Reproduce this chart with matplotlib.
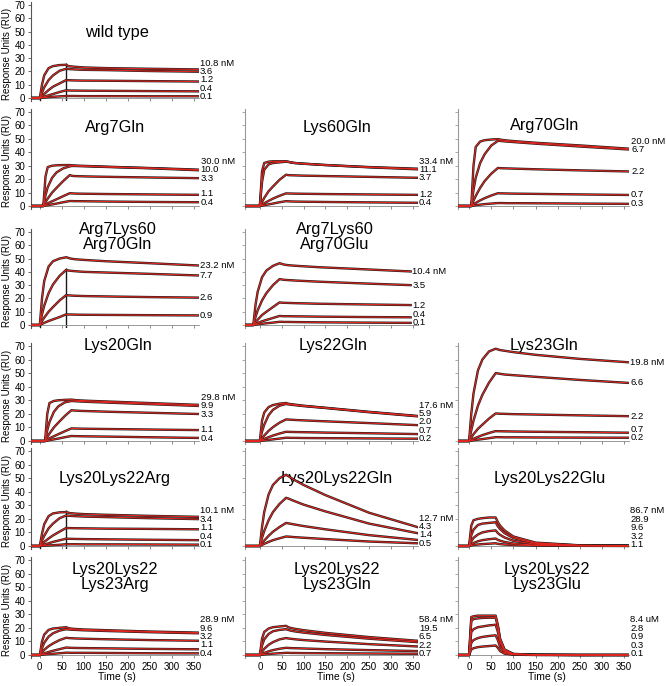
"""SPR sensorgrams for wild type and mutants, 6 x 3 panel grid -> out.png"""

import matplotlib

matplotlib.use("Agg")
import matplotlib.pyplot as plt

# sampling times (s)
T = [-40, 0, 5, 10, 20, 30, 45, 60, 65, 70, 80, 100, 150, 250, 360]

# ---- values (RU), one list per concentration ----
WT_LABELS = ["10.8 nM", "3.6", "1.2", "0.4", "0.1"]
WT_CURVES = [
    [0, 0, 10, 17, 22.5, 24, 24.8, 25, 24, 23.8, 23.5, 23, 22.5, 22, 21.5],
    [0, 0, 4, 8, 13.5, 17, 20.5, 22, 21.8, 21.7, 21.5, 21.2, 21, 20.3, 19.8],
    [0, 0, 1.5, 3, 6, 8.5, 11, 13.5, 13.4, 13.3, 13.2, 13.1, 13, 12.7, 12.4],
    [0, 0, 0.5, 1, 2, 3, 4.5, 5.8, 5.7, 5.6, 5.6, 5.5, 5.4, 5.2, 5],
    [0, 0, 0.2, 0.3, 0.6, 0.9, 1.2, 1.5, 1.5, 1.5, 1.5, 1.4, 1.4, 1.3, 1.3],
]

R7Q_LABELS = ["30.0 nM", "10.0", "3.3", "1.1", "0.4"]
R7Q_CURVES = [
    [0, 0, 22, 29, 30, 30.3, 30.5, 30.5, 30.3, 30.2, 30, 29.8, 29.2, 28.2, 27],
    [0, 0, 8, 14, 21, 25, 28, 29.5, 29.8, 29.8, 29.7, 29.5, 29, 28, 26.5],
    [0, 0, 3, 5.5, 10, 13.5, 18.5, 23, 22.5, 22.3, 22.2, 22, 21.7, 21.2, 20.7],
    [0, 0, 1, 2, 3.5, 5, 7.3, 9.5, 9.4, 9.3, 9.2, 9.1, 8.9, 8.6, 8.3],
    [0, 0, 0.3, 0.6, 1.2, 1.8, 2.8, 3.7, 3.7, 3.6, 3.6, 3.5, 3.3, 3, 2.8],
]

K60Q_LABELS = ["33.4 nM", "11.1", "3.7", "1.2", "0.4"]
K60Q_CURVES = [
    [0, 0, 26, 32, 33, 33.3, 33.3, 33.3, 33, 32.5, 32, 31.5, 30.5, 29, 27.8],
    [0, 0, 18, 27, 31, 32, 32.5, 33, 32.8, 32.5, 32, 31.5, 30.5, 28.8, 27.3],
    [0, 0, 3, 6, 11, 14.5, 19.5, 23.3, 23, 22.9, 22.8, 22.6, 22.3, 21.7, 21],
    [0, 0, 1, 2, 3.8, 5.5, 7.6, 9.4, 9.3, 9.3, 9.2, 9.1, 8.9, 8.6, 8.3],
    [0, 0, 0.3, 0.6, 1.2, 1.8, 2.8, 3.6, 3.5, 3.4, 3.3, 3.2, 3, 2.7, 2.4],
]

R70Q_LABELS = ["20.0 nM", "6.7", "2.2", "0.7", "0.3"]
R70Q_CURVES = [
    [0, 0, 30, 44, 48, 49, 49.5, 49.8, 49.5, 49.2, 48.8, 48.2, 47, 45, 42.6],
    [0, 0, 12, 21, 32, 38.5, 45, 48.5, 48.5, 48.3, 48, 47.5, 46.3, 44.2, 42],
    [0, 0, 4, 7.5, 13.5, 18.5, 24, 28.3, 28.2, 28.1, 28, 27.8, 27.3, 26.5, 25.7],
    [0, 0, 1.2, 2.3, 4.2, 5.8, 7.8, 9.5, 9.4, 9.4, 9.3, 9.2, 9, 8.6, 8.2],
    [0, 0, 0.3, 0.6, 1, 1.4, 1.8, 2.2, 2.2, 2.2, 2.1, 2.1, 2, 1.8, 1.6],
]

TRIPLE_Q_LABELS = ["23.2 nM", "7.7", "2.6", "0.9"]
TRIPLE_Q_CURVES = [
    [0, 0, 20, 33, 44, 48, 50, 51, 50.5, 50, 49.5, 49, 48, 46.5, 44.8],
    [0, 0, 8, 14.5, 24, 30.5, 37, 41.5, 41, 40.8, 40.5, 40, 39.5, 38.5, 37.3],
    [0, 0, 3, 5.5, 10, 13.5, 18.5, 22.5, 22.3, 22.2, 22, 21.8, 21.5, 21, 20.6],
    [0, 0, 0.8, 1.6, 3, 4.2, 6, 8, 7.9, 7.9, 7.8, 7.7, 7.6, 7.4, 7.2],
]

TRIPLE_E_LABELS = ["10.4 nM", "3.5", "1.2", "0.4", "0.1"]
TRIPLE_E_CURVES = [
    [0, 0, 15, 25, 36, 41, 44.5, 46.5, 46, 45.5, 45, 44.5, 43.5, 42, 40.3],
    [0, 0, 6, 11, 18.5, 24, 30, 34.5, 34.3, 34, 33.8, 33.4, 32.6, 31.3, 30],
    [0, 0, 2, 4, 7.5, 10, 13.5, 17, 16.8, 16.7, 16.6, 16.4, 16, 15.5, 15],
    [0, 0, 0.8, 1.5, 2.8, 3.8, 5.3, 6.8, 6.7, 6.6, 6.6, 6.5, 6.3, 6, 5.8],
    [0, 0, 0.3, 0.5, 0.9, 1.3, 1.8, 2.4, 2.4, 2.3, 2.3, 2.2, 2, 1.8, 1.6],
]

K20Q_LABELS = ["29.8 nM", "9.9", "3.3", "1.1", "0.4"]
K20Q_CURVES = [
    [0, 0, 20, 28, 29.5, 30, 30.3, 30.5, 30.3, 30.1, 29.9, 29.6, 29, 27.8, 26.5],
    [0, 0, 8, 14, 21.5, 25.5, 28.5, 29.5, 29.4, 29.3, 29.1, 28.8, 28.2, 27, 25.7],
    [0, 0, 3, 5.5, 10, 13.5, 18.5, 22.7, 22.5, 22.4, 22.2, 22, 21.5, 20.7, 19.8],
    [0, 0, 1, 2, 3.5, 5, 7.2, 9.3, 9.2, 9.2, 9.1, 9, 8.8, 8.4, 8],
    [0, 0, 0.3, 0.6, 1.2, 1.8, 2.8, 3.7, 3.6, 3.6, 3.5, 3.4, 3.2, 2.7, 2.2],
]

K22Q_LABELS = ["17.6 nM", "5.9", "2.0", "0.7", "0.2"]
K22Q_CURVES = [
    [0, 0, 15, 21, 25, 26.5, 27.5, 28, 27.5, 27.2, 26.8, 26, 24.5, 21.5, 18.5],
    [0, 0, 7, 12, 19, 23, 26, 27.3, 27, 26.8, 26.4, 25.7, 24.3, 21.2, 18.2],
    [0, 0, 2, 4, 7.5, 10.2, 13.5, 15.9, 15.8, 15.7, 15.5, 15.2, 14.5, 13.2, 11.7],
    [0, 0, 0.8, 1.5, 2.8, 4, 5.5, 6.8, 6.7, 6.7, 6.6, 6.5, 6.2, 5.7, 5.1],
    [0, 0, 0.2, 0.4, 0.8, 1.2, 1.8, 2.4, 2.4, 2.3, 2.3, 2.2, 2.1, 1.9, 1.7],
]

K23Q_LABELS = ["19.8 nM", "6.6", "2.2", "0.7", "0.2"]
K23Q_CURVES = [
    [0, 0, 20, 35, 52, 60, 66, 68, 67.5, 67, 66.5, 65.5, 63.5, 60.5, 58],
    [0, 0, 8, 15, 26, 34, 43, 50, 49.8, 49.5, 49, 48.5, 47.3, 45, 42.8],
    [0, 0, 2.5, 5, 9, 12, 16.5, 20.3, 20.2, 20.1, 20, 19.8, 19.5, 18.9, 18.3],
    [0, 0, 0.8, 1.6, 3, 4.3, 5.9, 7.3, 7.2, 7.2, 7.1, 7, 6.8, 6.5, 6.1],
    [0, 0, 0.3, 0.5, 1, 1.4, 2.1, 2.8, 2.8, 2.8, 2.7, 2.7, 2.6, 2.5, 2.4],
]

K2022R_LABELS = ["10.1 nM", "3.4", "1.1", "0.4", "0.1"]
K2022R_CURVES = [
    [0, 0, 9, 16, 22, 24, 24.8, 25, 24.5, 24.2, 23.9, 23.5, 23, 22.2, 21.5],
    [0, 0, 4, 7.5, 13, 16.5, 20.5, 22.5, 22.3, 22.2, 22, 21.7, 21.3, 20.5, 19.8],
    [0, 0, 1.5, 3, 5.5, 7.8, 10.6, 13.3, 13.2, 13.2, 13.1, 13, 12.8, 12.6, 12.3],
    [0, 0, 0.5, 1, 2, 3, 4.2, 5.4, 5.3, 5.3, 5.2, 5.1, 4.9, 4.6, 4.3],
    [0, 0, 0.1, 0.2, 0.4, 0.6, 0.9, 1.3, 1.3, 1.3, 1.3, 1.2, 1.2, 1.1, 1],
]

K2022Q_LABELS = ["12.7 nM", "4.3", "1.4", "0.5"]
K2022Q_CURVES = [
    [0, 0, 14, 25, 38, 45, 50, 52.5, 51.5, 50.5, 48.5, 45, 37.5, 24.5, 14],
    [0, 0, 6, 11, 19, 25, 31, 35.5, 35, 34.3, 33, 30.5, 25.5, 16.5, 9.5],
    [0, 0, 2, 4, 7.5, 10.5, 14, 17, 16.7, 16.4, 15.8, 14.7, 12.3, 8, 4.5],
    [0, 0, 0.8, 1.6, 3, 4.3, 5.7, 7, 6.9, 6.8, 6.5, 6.1, 5.1, 3.3, 2],
]

K2022E_LABELS = ["86.7 nM", "28.9", "9.6", "3.2", "1.1"]
K2022E_CURVES = [
    [0, 0, 15, 19, 20, 20.5, 21, 21, 17.5, 15, 11.5, 7, 2.5, 0.5, 0.3],
    [0, 0, 8, 12, 15.5, 16.5, 17, 17.5, 14.5, 12.5, 9.5, 5.8, 2, 0.4, 0.2],
    [0, 0, 3.5, 6, 8.5, 10, 11, 11.5, 9.5, 8.2, 6.3, 3.8, 1.3, 0.3, 0.1],
    [0, 0, 1.3, 2.2, 3.5, 4.3, 5, 5.5, 4.5, 3.9, 3, 1.8, 0.6, 0.2, 0.1],
    [0, 0, 0.4, 0.7, 1.1, 1.4, 1.7, 2, 1.6, 1.4, 1.1, 0.7, 0.3, 0.1, 0],
]

K202223R_LABELS = ["28.9 nM", "9.6", "3.2", "1.1", "0.4"]
K202223R_CURVES = [
    [0, 0, 10, 15, 18.5, 19.5, 20, 20.5, 19.8, 19.5, 19.2, 18.8, 18.3, 17.3, 16.5],
    [0, 0, 5, 9, 13.5, 16, 18, 19, 18.8, 18.7, 18.5, 18.2, 17.7, 16.8, 16],
    [0, 0, 2, 3.8, 6.5, 8.5, 11, 12.7, 12.5, 12.4, 12.2, 12, 11.6, 11, 10.5],
    [0, 0, 0.6, 1.2, 2.2, 3.1, 4.3, 5.5, 5.4, 5.3, 5.2, 5.1, 4.9, 4.5, 4.2],
    [0, 0, 0.2, 0.4, 0.7, 0.9, 1.3, 1.7, 1.7, 1.6, 1.6, 1.6, 1.5, 1.3, 1.2],
]

K202223Q_LABELS = ["58.4 nM", "19.5", "6.5", "2.2", "0.7"]
K202223Q_CURVES = [
    [0, 0, 12, 17, 19.5, 20.5, 21, 21.5, 20.5, 20, 19.3, 18.3, 16.3, 13.2, 10.5],
    [0, 0, 7, 11.5, 15.5, 17.5, 18.5, 19, 18.5, 18, 17.4, 16.5, 14.8, 12, 9.5],
    [0, 0, 2.5, 4.5, 7.5, 9.5, 11.5, 12.5, 12.2, 12, 11.6, 11, 9.9, 8, 6.3],
    [0, 0, 0.8, 1.5, 2.7, 3.6, 4.6, 5.3, 5.2, 5.1, 5, 4.8, 4.3, 3.6, 2.9],
    [0, 0, 0.2, 0.4, 0.7, 1, 1.3, 1.6, 1.6, 1.5, 1.5, 1.4, 1.3, 1.1, 0.9],
]

K202223E_LABELS = ["8.4 uM", "2.8", "0.9", "0.3", "0.1"]
K202223E_CURVES = [
    [0, 0, 28, 28.5, 29, 29, 29, 29, 22, 12, 4, 0.8, 0.2, 0, 0],
    [0, 0, 25, 26.5, 27, 27.3, 27.5, 27.5, 21, 11.5, 3.8, 0.7, 0.2, 0, 0],
    [0, 0, 17, 19, 20.5, 21, 21.8, 22.3, 17, 9.3, 3, 0.6, 0.1, 0, 0],
    [0, 0, 9, 11, 12.5, 13.3, 14, 14.5, 11, 6, 2, 0.4, 0.1, 0, 0],
    [0, 0, 4, 5, 5.8, 6.2, 6.6, 7, 5.3, 2.9, 1, 0.2, 0, 0, 0],
]

# injection delay of each trace relative to the axis (s)
SHIFT_R7Q = 8
SHIFT_R70Q = 5
SHIFT_K20Q = 12
SHIFT_TRIPLE_E = -15

# injection artefacts: (time, top RU)
WT_SPIKES = [(0, 2), (60, 26.5)]
TRIPLE_Q_SPIKES = [(0, 2), (60, 43)]
K2022R_SPIKES = [(0, 1.5), (60, 26.5)]

# (row, col, title, title x, title y, shift, labels, curves, spikes)
PANELS = [
    (0, 0, "wild type", 175, 49.6, 0, WT_LABELS, WT_CURVES, WT_SPIKES),
    (1, 0, "Arg7Gln", 170, 58.8, SHIFT_R7Q, R7Q_LABELS, R7Q_CURVES, []),
    (1, 1, "Lys60Gln", 176, 58.8, 0, K60Q_LABELS, K60Q_CURVES, []),
    (1, 2, "Arg70Gln", 170, 60.3, SHIFT_R70Q, R70Q_LABELS, R70Q_CURVES, []),
    (2, 0, "Arg7Lys60\nArg70Gln", 177, 66.2, 0, TRIPLE_Q_LABELS, TRIPLE_Q_CURVES,
     TRIPLE_Q_SPIKES),
    (2, 1, "Arg7Lys60\nArg70Glu", 172, 66.2, SHIFT_TRIPLE_E, TRIPLE_E_LABELS,
     TRIPLE_E_CURVES, []),
    (3, 0, "Lys20Gln", 177, 70.5, SHIFT_K20Q, K20Q_LABELS, K20Q_CURVES, []),
    (3, 1, "Lys22Gln", 167, 70.5, 0, K22Q_LABELS, K22Q_CURVES, []),
    (3, 2, "Lys23Gln", 170, 70.5, 0, K23Q_LABELS, K23Q_CURVES, []),
    (4, 0, "Lys20Lys22Arg", 170, 50, 0, K2022R_LABELS, K2022R_CURVES, K2022R_SPIKES),
    (4, 1, "Lys20Lys22Gln", 176, 50, 0, K2022Q_LABELS, K2022Q_CURVES, []),
    (4, 2, "Lys20Lys22Glu", 181, 50, 0, K2022E_LABELS, K2022E_CURVES, []),
    (5, 0, "Lys20Lys22\nLys23Arg", 170, 57.5, 0, K202223R_LABELS, K202223R_CURVES, []),
    (5, 1, "Lys20Lys22\nLys23Gln", 176, 57.5, 0, K202223Q_LABELS, K202223Q_CURVES, []),
    (5, 2, "Lys20Lys22\nLys23Glu", 175, 57.5, 0, K202223E_LABELS, K202223E_CURVES, []),
]

W, H = 666, 686
# column geometry: left px, px per second, axis start (s)
COLS = [(31, 0.44, -20), (245, 0.437, -34), (458, 0.443, -25)]
# row geometry: px of y=0, px of y=70
ROWS = [(98, 5), (206, 112), (325, 232), (441, 346), (546, 451), (655, 560)]
XMAX = 362
YLO, YHI = -2, 72.5


def label_positions(ends, gap=6.2, floor=1.0):
    # lowest trace first; on ties the later (lower concentration) one goes lower
    order = sorted(range(len(ends)), key=lambda i: (ends[i], -i))
    pos = [0.0] * len(ends)
    prev = None
    for i in order:
        y = max(ends[i], floor)
        if prev is not None:
            y = max(y, prev + gap)
        pos[i] = y
        prev = y
    return pos


def main() -> None:
    plt.rcParams["font.family"] = ["Liberation Sans", "DejaVu Sans"]
    fig = plt.figure(figsize=(W / 100, H / 100), dpi=100)

    for row, col, title, tx, ty, shift, labels, curves, spikes in PANELS:
        lpx, pps, xmin = COLS[col]
        y0, y70 = ROWS[row]
        k = (y0 - y70) / 70
        rect = [
            lpx / W,
            1 - (y0 - YLO * k) / H,
            (XMAX - xmin) * pps / W,
            (YHI - YLO) * k / H,
        ]
        ax = fig.add_axes(rect)
        ax.set_xlim(xmin, XMAX)
        ax.set_ylim(YLO, YHI)

        times = [t + shift for t in T]
        for t, top in spikes:
            ax.vlines(t + shift, YLO, top, color="#1a1a1a", lw=1.0, zorder=2)
        for vals in curves:
            ax.plot(times, vals, color="#1e1e1e", lw=1.7, zorder=3,
                    solid_joinstyle="round")
        for vals in curves:
            ax.plot(times, vals, color="#e3261e", lw=0.8, zorder=4)

        # concentration labels, stacked from the lowest trace upward
        ends = [v[-1] for v in curves]
        xlab = min(times[-1], XMAX)
        for text, y in zip(labels, label_positions(ends)):
            ax.annotate(text, xy=(xlab, y), xytext=(1.2, 0),
                        textcoords="offset points", fontsize=6.8,
                        va="center", ha="left", annotation_clip=False)

        ax.text(tx, ty, title, fontsize=11.8, ha="center", va="center",
                linespacing=0.95)

        for side in ("top", "right"):
            ax.spines[side].set_visible(False)
        spine_col = "#555555" if col == 0 else "#9a9a9a"
        ax.spines["left"].set_color(spine_col)
        ax.spines["left"].set_linewidth(0.8)
        ax.spines["bottom"].set_position(("data", 0))
        ax.spines["bottom"].set_color("#888888")
        ax.spines["bottom"].set_linewidth(0.6)

        ax.set_yticks(range(0, 80, 10))
        ax.tick_params(axis="y", length=2.5, width=0.6, color=spine_col,
                       labelsize=7, pad=1.5)
        if col > 0:
            ax.set_yticklabels([])
        ax.set_xticks(range(0, 351, 50))
        ax.tick_params(axis="x", length=2, width=0.6, color="#777777",
                       labelsize=7, pad=3)
        if row < 5:
            ax.set_xticklabels([])
        ax.patch.set_alpha(0)

        if col == 0:
            fig.text(7 / W, 1 - ((y0 + y70) / 2 + 2) / H, "Response Units (RU)",
                     rotation=90, ha="center", va="center", fontsize=7)
        if row == 5:
            xc = lpx + (175 - xmin) * pps
            fig.text(xc / W, 1 - 677 / H, "Time (s)", ha="center",
                     va="center", fontsize=7.5)

    fig.savefig("out.png", dpi=100)


if __name__ == "__main__":
    main()
